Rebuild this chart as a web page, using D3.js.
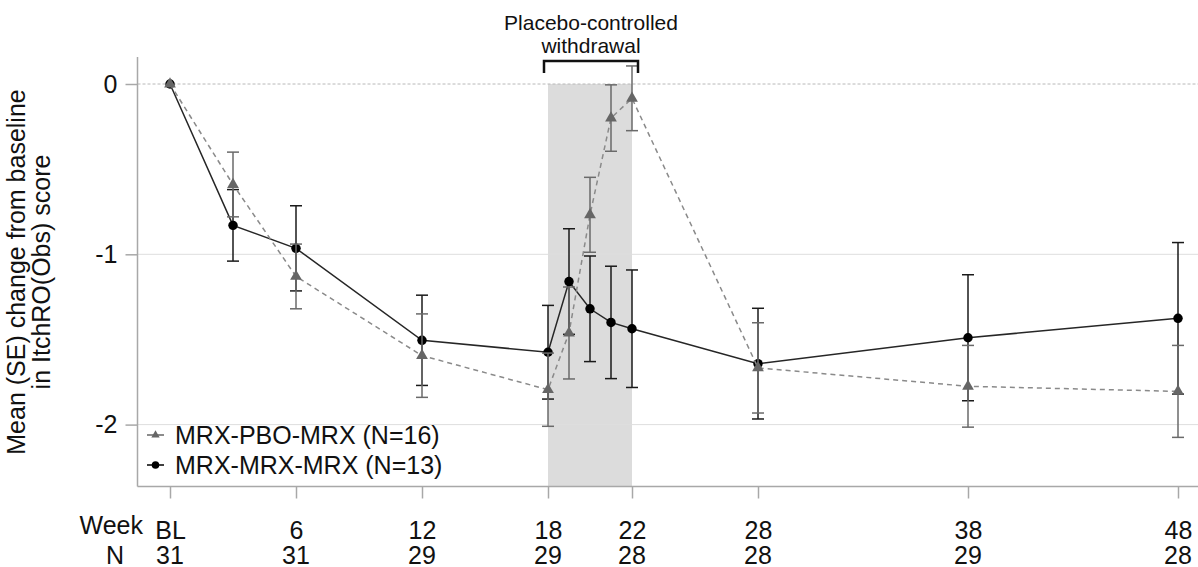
<!DOCTYPE html>
<html>
<head>
<meta charset="utf-8">
<script src="https://cdn.jsdelivr.net/npm/d3@7"></script>
<style>
  html, body { margin: 0; padding: 0; background: #fff; }
  svg { display: block; font-family: "Liberation Sans", Arial, sans-serif; }
</style>
</head>
<body>
<svg id="chart" width="1198" height="567"></svg>
<script>
// ---- data ----
const weeks = [0, 3, 6, 12, 18, 19, 20, 21, 22, 28, 38, 48];
const pboMean = [0, -0.59, -1.13, -1.595, -1.795, -1.462, -0.768, -0.20, -0.084, -1.667, -1.775, -1.805];
const pboSE   = [0, 0.19, 0.19, 0.245, 0.215, 0.27, 0.22, 0.195, 0.19, 0.265, 0.24, 0.27];
const mrxMean = [0, -0.83, -0.965, -1.505, -1.575, -1.16, -1.32, -1.40, -1.437, -1.642, -1.49, -1.376];
const mrxSE   = [0, 0.21, 0.25, 0.265, 0.275, 0.31, 0.31, 0.33, 0.345, 0.325, 0.37, 0.445];
const tickWeeks  = [0, 6, 12, 18, 22, 28, 38, 48];
const tickLabels = ["BL", "6", "12", "18", "22", "28", "38", "48"];
const nLabels    = ["31", "31", "29", "29", "28", "28", "29", "28"];
const yTicks = [0, -1, -2];
const withdrawal = [18, 22];
const seriesNames = ["MRX-PBO-MRX (N=16)", "MRX-MRX-MRX (N=13)"];

// ---- layout ----
const svg = d3.select("#chart");
const x = d3.scaleLinear().domain([0, 48]).range([170, 1178]);
const y = d3.scaleLinear().domain([0, -2]).range([84, 424.6]);
const frameLeft = 137.5, frameRight = 1198, frameTop = 57, frameBottom = 486.5;

// shaded withdrawal region
svg.append("rect")
  .attr("x", x(withdrawal[0])).attr("width", x(withdrawal[1]) - x(withdrawal[0]))
  .attr("y", y(0)).attr("height", frameBottom - y(0))
  .attr("fill", "#dcdcdc");

// gridlines
svg.append("g").selectAll("line").data(yTicks).join("line")
  .attr("x1", frameLeft).attr("x2", frameRight)
  .attr("y1", d => y(d)).attr("y2", d => y(d))
  .attr("stroke", d => d === 0 ? "#b8b8b8" : "#dedede")
  .attr("stroke-width", 1)
  .attr("stroke-dasharray", d => d === 0 ? "3,2" : null);

// frame lines
svg.append("line").attr("x1", frameLeft).attr("x2", frameLeft).attr("y1", frameTop).attr("y2", frameBottom)
  .attr("stroke", "#a8a8a8").attr("stroke-width", 1.5);
svg.append("line").attr("x1", frameLeft).attr("x2", frameRight).attr("y1", frameBottom).attr("y2", frameBottom)
  .attr("stroke", "#a8a8a8").attr("stroke-width", 1.5);

// y axis
const yAxis = d3.axisLeft(y).tickValues(yTicks).tickSize(12).tickPadding(8).tickFormat(d3.format("d"));
const gy = svg.append("g").attr("transform", `translate(${frameLeft},0)`).call(yAxis);
gy.select(".domain").remove();
gy.selectAll(".tick line").attr("stroke", "#a8a8a8").attr("stroke-width", 1.5);
gy.selectAll(".tick text").attr("font-size", 25).attr("fill", "#111")
  .attr("font-family", "Liberation Sans, Arial, sans-serif").text(d => d === 0 ? "0" : "-" + Math.abs(d));

// x axis
const xAxis = d3.axisBottom(x).tickValues(tickWeeks).tickSize(12).tickFormat((d, i) => tickLabels[i]).tickPadding(23);
const gx = svg.append("g").attr("transform", `translate(0,${frameBottom})`).call(xAxis);
gx.select(".domain").remove();
gx.selectAll(".tick line").attr("stroke", "#a8a8a8").attr("stroke-width", 1.5);
gx.selectAll(".tick text").attr("font-size", 25).attr("fill", "#111")
  .attr("font-family", "Liberation Sans, Arial, sans-serif");

// N row
svg.append("g").selectAll("text").data(tickWeeks).join("text")
  .attr("x", d => x(d)).attr("y", 564)
  .attr("text-anchor", "middle").attr("font-size", 25).attr("fill", "#111")
  .text((d, i) => nLabels[i]);
svg.append("text").attr("x", 143).attr("y", 534).attr("text-anchor", "end")
  .attr("font-size", 25).attr("fill", "#111").text("Week");
svg.append("text").attr("x", 124).attr("y", 564).attr("text-anchor", "end")
  .attr("font-size", 25).attr("fill", "#111").text("N");

// y axis title
svg.append("text").attr("transform", "translate(25,272) rotate(-90)")
  .attr("text-anchor", "middle").attr("font-size", 25).attr("fill", "#111")
  .text("Mean (SE) change from baseline");
svg.append("text").attr("transform", "translate(50,272) rotate(-90)")
  .attr("text-anchor", "middle").attr("font-size", 25).attr("fill", "#111")
  .text("in ItchRO(Obs) score");

// series drawing
function drawSeries(means, ses, opts) {
  const data = weeks.map((w, i) => ({ w, m: means[i], se: ses[i] }));
  const g = svg.append("g");
  g.append("path").datum(data)
    .attr("d", d3.line().x(d => x(d.w)).y(d => y(d.m)))
    .attr("fill", "none").attr("stroke", opts.lineColor).attr("stroke-width", opts.lineWidth)
    .attr("stroke-dasharray", opts.dash);
  const eb = g.append("g").selectAll("g").data(data.filter(d => d.se > 0)).join("g");
  eb.append("line").attr("x1", d => x(d.w)).attr("x2", d => x(d.w))
    .attr("y1", d => y(d.m + d.se)).attr("y2", d => y(d.m - d.se))
    .attr("stroke", opts.errColor).attr("stroke-width", 1.5);
  [1, -1].forEach(s => {
    eb.append("line").attr("x1", d => x(d.w) - 6).attr("x2", d => x(d.w) + 6)
      .attr("y1", d => y(d.m + s * d.se)).attr("y2", d => y(d.m + s * d.se))
      .attr("stroke", opts.errColor).attr("stroke-width", 1.5);
  });
  g.append("g").selectAll("path").data(data).join("path")
    .attr("transform", d => `translate(${x(d.w)},${y(d.m)})`)
    .attr("d", d3.symbol().type(opts.symbol).size(opts.size))
    .attr("fill", opts.markColor);
}

drawSeries(mrxMean, mrxSE, { lineColor: "#262626", lineWidth: 1.5, dash: null, errColor: "#1a1a1a",
  symbol: d3.symbolCircle, size: 70, markColor: "#000" });
drawSeries(pboMean, pboSE, { lineColor: "#8a8a8a", lineWidth: 1.5, dash: "5,4", errColor: "#6a6a6a",
  symbol: d3.symbolTriangle, size: 60, markColor: "#666" });

// legend
const legend = svg.append("g");
const legendItems = [
  { name: seriesNames[0], sym: d3.symbolTriangle, color: "#666", size: 30, y: 435 },
  { name: seriesNames[1], sym: d3.symbolCircle, color: "#000", size: 45, y: 465 }
];
legendItems.forEach(it => {
  legend.append("line").attr("x1", 147).attr("x2", 164).attr("y1", it.y).attr("y2", it.y)
    .attr("stroke", it.color).attr("stroke-width", 1.5);
  legend.append("path").attr("transform", `translate(155.5,${it.y})`)
    .attr("d", d3.symbol().type(it.sym).size(it.size)).attr("fill", it.color);
  legend.append("text").attr("x", 175).attr("y", it.y + 8.5).attr("font-size", 25).attr("fill", "#111")
    .text(it.name);
});

// bracket annotation
const bx1 = x(withdrawal[0]) - 4, bx2 = x(withdrawal[1]) + 6;
svg.append("path")
  .attr("d", `M${bx1},73 L${bx1},61 L${bx2},61 L${bx2},73`)
  .attr("fill", "none").attr("stroke", "#111").attr("stroke-width", 2.5);
const cx = (bx1 + bx2) / 2;
svg.append("text").attr("x", cx).attr("y", 30).attr("text-anchor", "middle")
  .attr("font-size", 21).attr("fill", "#111").text("Placebo-controlled");
svg.append("text").attr("x", cx).attr("y", 53).attr("text-anchor", "middle")
  .attr("font-size", 21).attr("fill", "#111").text("withdrawal");
</script>
</body>
</html>
